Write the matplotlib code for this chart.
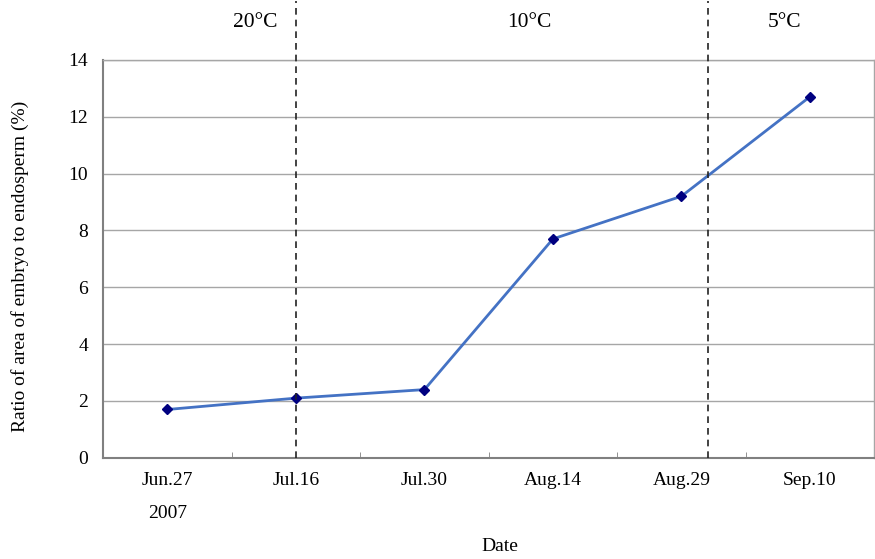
import numpy as np
import matplotlib
matplotlib.use('Agg')
import matplotlib.pyplot as plt
import matplotlib.transforms as mtransforms

plt.rcParams['font.family'] = ['Liberation Serif', 'DejaVu Serif']

dates = ['Jun.27', 'Jul.16', 'Jul.30', 'Aug.14', 'Aug.29', 'Sep.10']
ratio = [1.7, 2.1, 2.4, 7.7, 9.2, 12.7]

# temperature phases: label position and the boundaries between them
temp_labels = ['20°C', '10°C', '5°C']
temp_label_x = [0.68, 2.82, 4.8]
temp_breaks = [1.0, 4.21]

fig = plt.figure(figsize=(8.75, 5.59), dpi=100)
ax = fig.add_axes([0.118, 0.181, 0.881, 0.712])

x = np.arange(len(dates))
ax.plot(x, ratio, color='#4472C4', linewidth=2, zorder=3)
ax.plot(x, ratio, linestyle='none', marker='D', markersize=5,
        color='#000080', zorder=4)

ax.set_xlim(-0.5, len(dates) - 0.5)
ax.set_ylim(0, 14)
ax.set_yticks(np.arange(0, 15, 2))
ax.yaxis.grid(True, color='#A6A6A6', linewidth=1)
ax.set_axisbelow(True)

ax.set_xticks(x)
ax.set_xticklabels(dates)
ax.set_xticks(np.arange(0.5, len(dates) - 0.5, 1), minor=True)
ax.tick_params(axis='x', which='major', length=0, pad=10, labelsize=14)
ax.tick_params(axis='x', which='minor', direction='in', length=4,
               color='#808080')
ax.tick_params(axis='y', length=0, pad=11, labelsize=14)

for side in ['left', 'bottom']:
    ax.spines[side].set_color('#808080')
    ax.spines[side].set_linewidth(1.5)
for side in ['top', 'right']:
    ax.spines[side].set_color('#A6A6A6')
    ax.spines[side].set_linewidth(1)

# dashed dividers running up past the plot into the header band
for xb in temp_breaks:
    ax.axvline(xb, ymin=0, ymax=1.148, color='#222222', linewidth=1.2,
               linestyle=(0, (4, 3)), clip_on=False, zorder=5)

trans = mtransforms.blended_transform_factory(ax.transData, ax.transAxes)
for lbl, lx in zip(temp_labels, temp_label_x):
    ax.text(lx, 1.095, lbl, transform=trans, ha='center', va='center',
            fontsize=15.5)

ax.text(0, -0.141, '2007', transform=trans, ha='center', va='center',
        fontsize=14)
ax.text(0.515, -0.224, 'Date', transform=ax.transAxes, ha='center',
        va='center', fontsize=14)
ax.text(-0.108, 0.482, 'Ratio of area of embryo to endosperm (%)',
        transform=ax.transAxes, rotation=90, ha='center', va='center',
        fontsize=14)

fig.savefig('out.png', dpi=100)
